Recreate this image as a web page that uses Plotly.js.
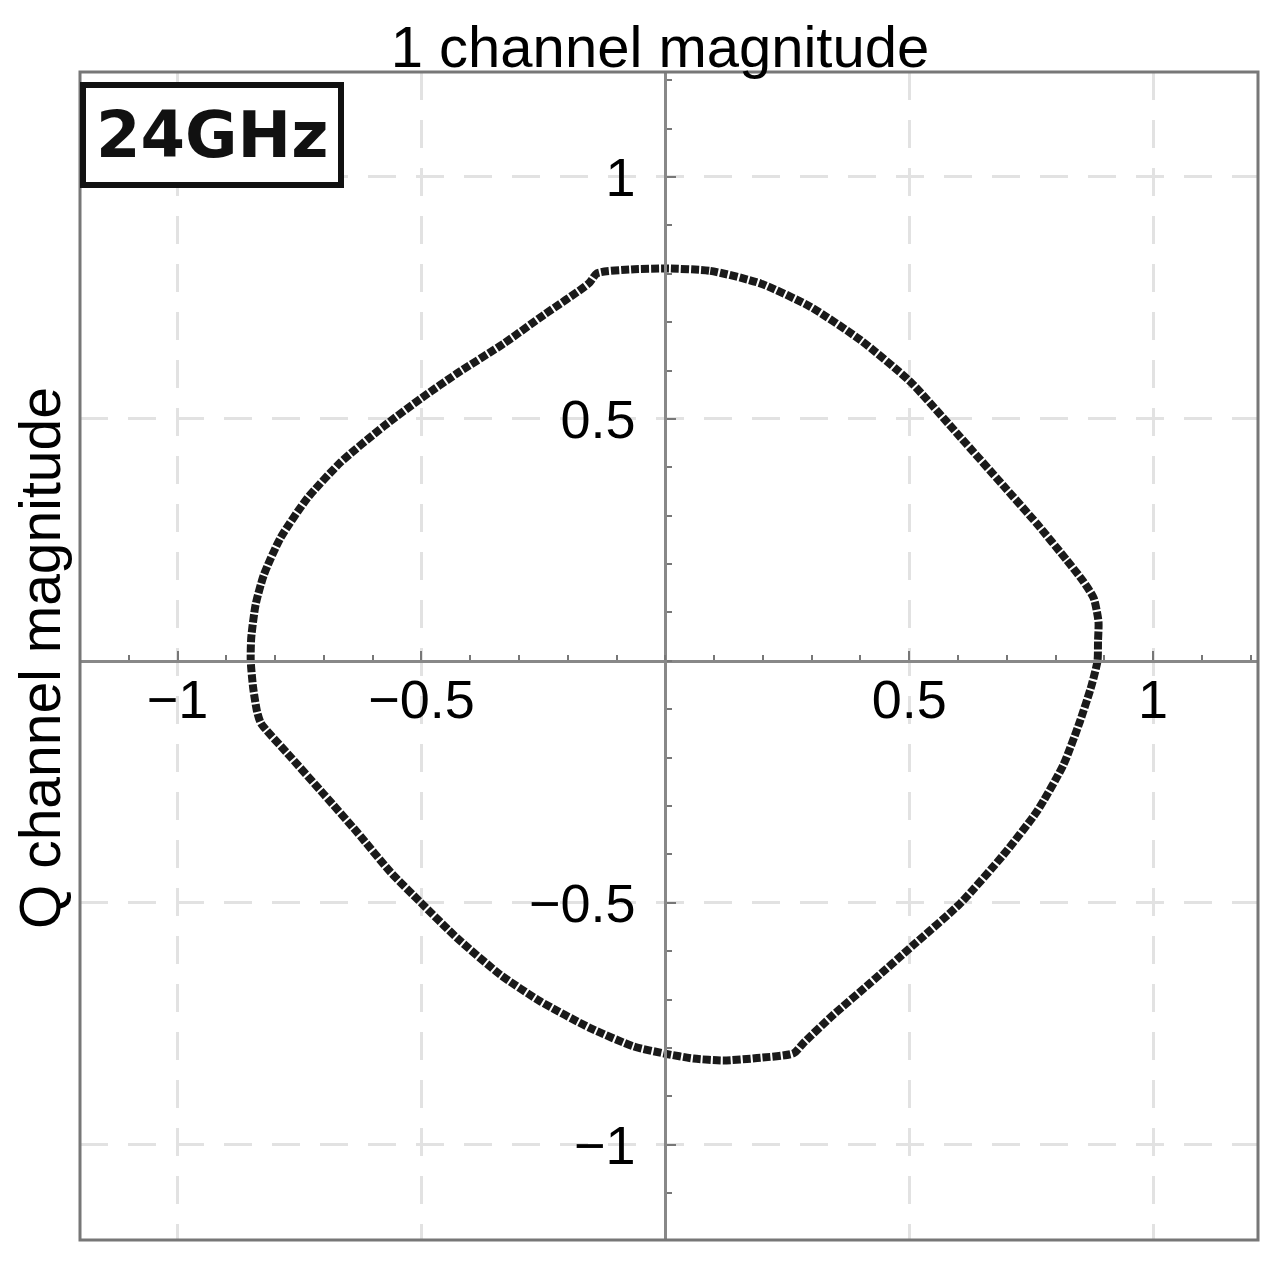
<!DOCTYPE html>
<html>
<head>
<meta charset="utf-8">
<script src="https://cdn.plot.ly/plotly-3.0.1.min.js"></script>
<style>
  html, body { margin: 0; padding: 0; background: #fff; }
  #chart { width: 1286px; height: 1262px; }
</style>
</head>
<body>
<div id="chart"></div>
<script>
// I/Q trace, clockwise from the top crossing
const iValues = [0, 0.092, 0.195, 0.297, 0.400, 0.502, 0.605, 0.693, 0.762, 0.823, 0.857,
  0.878, 0.888, 0.887, 0.886, 0.874, 0.850, 0.816, 0.762, 0.693, 0.605, 0.509, 0.420, 0.345,
  0.283, 0.263, 0.188, 0.119, 0.058, 0, -0.065, -0.154, -0.256, -0.338, -0.427, -0.5, -0.564,
  -0.632, -0.700, -0.775, -0.829, -0.837, -0.845, -0.850, -0.849, -0.840, -0.823, -0.789,
  -0.734, -0.666, -0.577, -0.5, -0.427, -0.331, -0.249, -0.157, -0.140, -0.07, 0];
const qValues = [0.811, 0.806, 0.780, 0.732, 0.663, 0.577, 0.462, 0.362, 0.283, 0.208, 0.164,
  0.130, 0.081, 0.040, 0, -0.050, -0.125, -0.215, -0.311, -0.401, -0.501, -0.587, -0.666, -0.731,
  -0.790, -0.811, -0.821, -0.826, -0.822, -0.812, -0.797, -0.759, -0.704, -0.649, -0.573, -0.501, -0.436,
  -0.354, -0.276, -0.191, -0.129, -0.105, -0.056, 0, 0.047, 0.116, 0.178, 0.254,
  0.336, 0.410, 0.485, 0.543, 0.594, 0.656, 0.715, 0.780, 0.801, 0.809, 0.811];

const tickVals = [-1, -0.5, 0.5, 1];
const tickText = ["\u22121", "\u22120.5", "0.5", "1"];
const bandLabel = "24GHz";

const xRange = [-1.2, 1.215];
const yRange = [-1.197, 1.217];

// put each axis line through the other axis' zero
const xPos = (0 - yRange[0]) / (yRange[1] - yRange[0]);
const yPos = (0 - xRange[0]) / (xRange[1] - xRange[0]);

const axisCommon = {
  tickvals: tickVals,
  ticktext: tickText,
  ticks: "inside",
  ticklen: 9,
  tickwidth: 2,
  tickcolor: "#777",
  tickfont: { family: "Liberation Sans, Arial, sans-serif", size: 54, color: "#000" },
  showline: true,
  linecolor: "#888",
  linewidth: 3,
  zeroline: false,
  showgrid: true,
  gridcolor: "#e2e2e2",
  gridwidth: 3,
  griddash: "28px,20px",
  minor: { dtick: 0.1, ticks: "inside", ticklen: 5, tickcolor: "#777", tickwidth: 2, showgrid: false },
  anchor: "free"
};

const data = [{
  x: iValues,
  y: qValues,
  type: "scatter",
  mode: "lines",
  line: { color: "#1a1a1a", width: 8, dash: "8px,2px", shape: "spline", smoothing: 0.6 },
  hoverinfo: "x+y"
}];

const layout = {
  width: 1286,
  height: 1262,
  margin: { l: 80, r: 28, t: 72, b: 22 },
  paper_bgcolor: "#fff",
  plot_bgcolor: "#fff",
  showlegend: false,
  title: {
    text: "1 channel magnitude",
    font: { family: "Liberation Sans, Arial, sans-serif", size: 58, color: "#000" },
    xref: "container", x: 660 / 1286, xanchor: "center",
    yref: "container", y: 1 - 47 / 1262, yanchor: "middle"
  },
  xaxis: Object.assign({}, axisCommon, { range: xRange, side: "bottom", position: xPos, ticklabelstandoff: -10 }),
  yaxis: Object.assign({}, axisCommon, { range: yRange, side: "left", position: yPos, ticklabelstandoff: 18 }),
  shapes: [{
    type: "rect", xref: "paper", yref: "paper", x0: 0, x1: 1, y0: 0, y1: 1,
    line: { color: "#777", width: 3 }, layer: "above"
  }],
  annotations: [
    {
      text: "Q channel magnitude",
      textangle: -90,
      xref: "paper", yref: "paper",
      x: 0, y: 0.5, xanchor: "center", yanchor: "middle",
      xshift: -40, yshift: -2,
      showarrow: false,
      font: { family: "Liberation Sans, Arial, sans-serif", size: 57, color: "#000" }
    },
    {
      text: "<b>" + bandLabel + "</b>",
      xref: "paper", yref: "paper",
      x: 0, y: 1, xanchor: "left", yanchor: "top",
      xshift: 0, yshift: -10,
      showarrow: false,
      bgcolor: "#fff",
      bordercolor: "#111",
      borderwidth: 6,
      borderpad: 10,
      font: { family: "DejaVu Sans, sans-serif", size: 64, color: "#111" }
    }
  ]
};

Plotly.newPlot("chart", data, layout, { displayModeBar: false, staticPlot: true });
</script>
</body>
</html>
